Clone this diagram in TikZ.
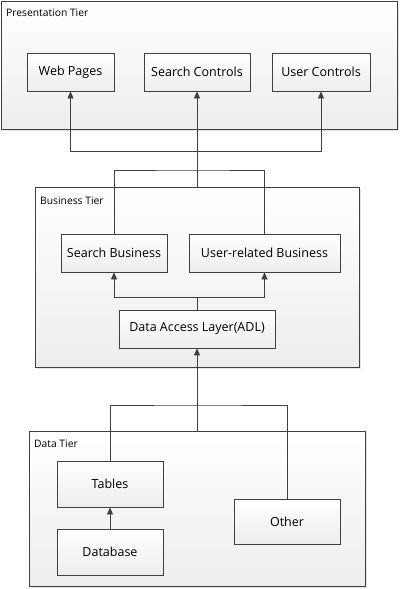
\documentclass[tikz,border=0pt]{standalone}
\usepackage{fontspec}
\setmainfont{Open Sans}
\usetikzlibrary{arrows.meta,shadows}

\begin{document}
\begin{tikzpicture}[x=1pt,y=-1pt,
  tier/.style={draw=black!75, line width=0.8pt, top color=white, bottom color=black!7,
    drop shadow={shadow xshift=1.5pt, shadow yshift=-1.5pt, opacity=0.25, fill=black!40},
    inner sep=0pt},
  part/.style={draw=black!75, line width=0.8pt, top color=white, bottom color=black!7,
    drop shadow={shadow xshift=1.2pt, shadow yshift=-1.2pt, opacity=0.25, fill=black!40},
    minimum width=106pt, minimum height=38pt, inner sep=0pt, font=\fontsize{12.5}{14}\selectfont},
  title/.style={anchor=west, inner sep=0pt, font=\fontsize{10.3}{12}\selectfont},
  link/.style={draw=black!75, line width=0.8pt},
  flow/.style={link, -{Triangle[width=6pt,length=7pt]}}]
\useasboundingbox (0,0) rectangle (400,589);
% tiers
\node[tier, minimum width=396pt, minimum height=128pt] (pres) at (199,65) {};
\node[tier, minimum width=324pt, minimum height=180pt] (bus) at (197,277) {};
\node[tier, minimum width=336pt, minimum height=155pt] (data) at (197,508.5) {};
\node[title] (prestitle) at (6,13) {Presentation Tier};
\node[title] (bustitle) at (40,201) {Business Tier};
\node[title] (datatitle) at (34,444) {Data Tier};
% presentation
\node[part, minimum width=87pt] (web) at (70.5,72) {Web Pages};
\node[part] (searchc) at (197,72) {Search Controls};
\node[part, minimum width=98pt] (userc) at (321,72) {User Controls};
% business
\node[part] (sbus) at (114,253) {Search Business};
\node[part, minimum width=151pt] (ubus) at (264.5,253) {User-related Business};
\node[part, minimum width=156pt] (dal) at (197,329) {Data Access Layer(ADL)};
% data
\node[part, minimum height=46pt] (tables) at (110,484) {Tables};
\node[part, minimum height=45pt] (other) at (287,521.5) {Other};
\node[part, minimum height=46pt] (db) at (110,552) {Database};
% connectors
\coordinate (pjoin) at (197,151);
\coordinate (bjoin) at (197,170);
\coordinate (djoin) at (197,297);
\coordinate (tjoin) at (197,405);
\draw[flow] (bus.north) -- (searchc.south);
\draw[flow] (pjoin) -| (web.south);
\draw[flow] (pjoin) -| (userc.south);
\draw[link] (sbus.north) |- (bjoin) -| (ubus.north);
\draw[link] (dal.north) -- (djoin);
\draw[flow] (djoin) -| (sbus.south);
\draw[flow] (djoin) -| (ubus.south);
\draw[flow] (data.north) -- (dal.south);
\draw[link] (tables.north) |- (tjoin) -| (other.north);
\draw[flow] (db.north) -- (tables.south);
\end{tikzpicture}
\end{document}
